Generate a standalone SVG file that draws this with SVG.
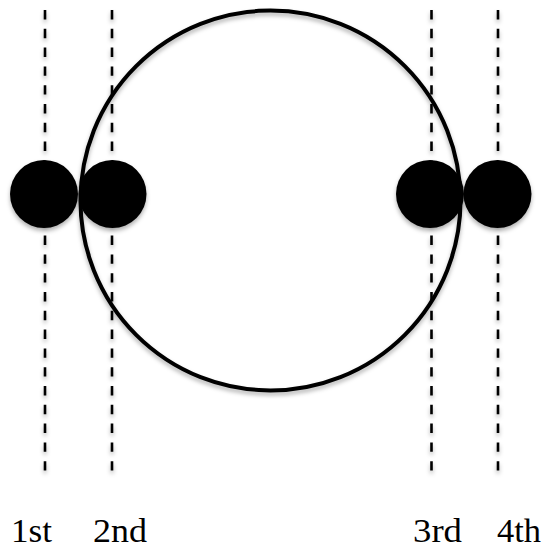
<svg xmlns="http://www.w3.org/2000/svg" width="546" height="550" viewBox="0 0 546 550">
  <defs>
    <filter id="sh" x="-20%" y="-20%" width="140%" height="140%">
      <feDropShadow dx="0" dy="3" stdDeviation="2" flood-color="#000" flood-opacity="0.3"/>
    </filter>
    <style>
      .guide { stroke: #000; stroke-width: 2.6; stroke-dasharray: 9.4 9.4; fill: none; }
      .ring { stroke: #000; stroke-width: 4; fill: none; }
      .dot { fill: #000; }
      .lbl { font-family: "Liberation Serif", "DejaVu Serif", serif; font-size: 33px; fill: #000; }
    </style>
  </defs>
  <rect width="546" height="550" fill="#fff"/>
  <g id="connectors" filter="url(#sh)">
    <line class="guide" x1="45" y1="10" x2="45" y2="473"/>
    <line class="guide" x1="112" y1="10" x2="112" y2="473"/>
    <line class="guide" x1="431.5" y1="10" x2="431.5" y2="473"/>
    <line class="guide" x1="498" y1="10" x2="498" y2="473"/>
  </g>
  <g id="ring" filter="url(#sh)">
    <circle class="ring" cx="270.5" cy="200.5" r="190"/>
  </g>
  <g id="dot1" filter="url(#sh)"><circle class="dot" cx="44" cy="194" r="34"/></g>
  <g id="dot2" filter="url(#sh)"><circle class="dot" cx="112.5" cy="194" r="34"/></g>
  <g id="dot3" filter="url(#sh)"><circle class="dot" cx="430" cy="194" r="34"/></g>
  <g id="dot4" filter="url(#sh)"><circle class="dot" cx="497.5" cy="194" r="34"/></g>
  <g id="labels">
    <text class="lbl" x="11" y="542" textLength="41" lengthAdjust="spacingAndGlyphs">1st</text>
    <text class="lbl" x="93" y="542" textLength="54" lengthAdjust="spacingAndGlyphs">2nd</text>
    <text class="lbl" x="413" y="542" textLength="49" lengthAdjust="spacingAndGlyphs">3rd</text>
    <text class="lbl" x="497" y="542" textLength="44" lengthAdjust="spacingAndGlyphs">4th</text>
  </g>
</svg>
